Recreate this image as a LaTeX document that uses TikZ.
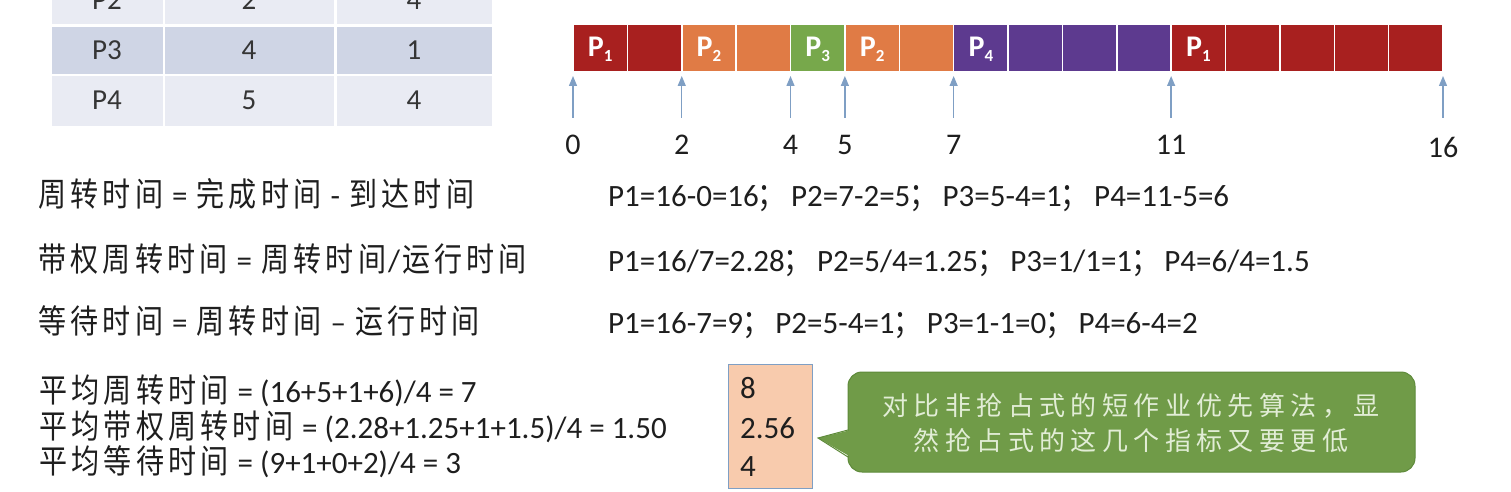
\documentclass[tikz,border=0pt]{standalone}
\usepackage{fontspec}
\usetikzlibrary{arrows.meta,calc}
\setmainfont{Carlito}
\newfontfamily\cjkfont[FakeStretch=0.85]{Noto Sans CJK SC}
\newfontfamily\cjkfontb{Noto Sans CJK SC}
% CJK characters with a fixed advance (kern on both sides of each glyph)
\def\zhloop#1{\ifx#1\relax\else\kern2.1pt#1\kern2.1pt\expandafter\zhloop\fi}
\newcommand\zh[1]{{\cjkfont\fontsize{33}{36}\selectfont\zhloop#1\relax}}
\newcommand\semi{{\cjkfont\fontsize{33}{36}\selectfont\kern-1pt；\kern5.25pt}}
\def\zhbloop#1{\ifx#1\relax\else\kern2.7pt#1\kern2.7pt\expandafter\zhbloop\fi}
\newcommand\zhb[1]{{\cjkfontb\fontsize{26}{30}\selectfont\zhbloop#1\relax}}
\definecolor{cPa}{HTML}{A8201F}
\definecolor{cPb}{HTML}{E07B45}
\definecolor{cPc}{HTML}{77A84B}
\definecolor{cPd}{HTML}{5D3A8F}
\definecolor{rowlight}{HTML}{E9EBF3}
\definecolor{rowdark}{HTML}{CFD5E5}
\definecolor{arrowblue}{HTML}{7F9FC4}
\definecolor{peach}{HTML}{F8CBAD}
\definecolor{greenfill}{HTML}{709B48}
\definecolor{greenline}{HTML}{5E8A3A}
\definecolor{calltxt}{HTML}{E2EDD6}
\definecolor{ink}{HTML}{1E1E1E}
\tikzset{
  ttext/.style={font=\fontsize{29}{34}\selectfont, text=ink!90, anchor=base, inner sep=0pt},
  gcell/.style={draw=white, line width=1.5pt, inner sep=0pt, minimum width=54.375pt, minimum height=48pt},
  glabel/.style={font=\bfseries\fontsize{30}{34}\selectfont, text=white, anchor=base, inner sep=0pt},
  tick/.style={font=\fontsize{30}{34}\selectfont, text=ink, anchor=base, inner sep=0pt},
  marker/.style={draw=arrowblue, line width=1.3pt, -{Triangle[length=10pt,width=8pt]}},
  ftext/.style={font=\fontsize{31}{36}\selectfont, text=ink, anchor=base west, inner sep=0pt},
  peachbox/.style={fill=peach, draw=arrowblue, line width=1pt, inner sep=0pt},
}
\begin{document}
\begin{tikzpicture}[x=1pt,y=-1pt]
\useasboundingbox (0,0) rectangle (1511,492);
\fill[white] (0,0) rectangle (1511,492);
\clip (0,0) rectangle (1511,492);
% table
\fill[rowlight] (52,-30) rectangle (163,24);
\fill[rowlight] (165,-30) rectangle (334,24);
\fill[rowlight] (337,-30) rectangle (492,24);
\fill[rowdark] (52,27) rectangle (163,74);
\fill[rowdark] (165,27) rectangle (334,74);
\fill[rowdark] (337,27) rectangle (492,74);
\fill[rowlight] (52,76) rectangle (163,126);
\fill[rowlight] (165,76) rectangle (334,126);
\fill[rowlight] (337,76) rectangle (492,126);
\node[ttext] (t21) at (107,10) {P2};
\node[ttext] (t22) at (249,10) {2};
\node[ttext] (t23) at (414,10) {4};
\node[ttext] (t31) at (107,60) {P3};
\node[ttext] (t32) at (249,60) {4};
\node[ttext] (t33) at (414,60) {1};
\node[ttext] (t41) at (107,110) {P4};
\node[ttext] (t42) at (249,110) {5};
\node[ttext] (t43) at (414,110) {4};
% gantt
\foreach \t/\c in {0/cPa,1/cPa,2/cPb,3/cPb,4/cPc,5/cPb,6/cPb,7/cPd,8/cPd,9/cPd,10/cPd,11/cPa,12/cPa,13/cPa,14/cPa,15/cPa}{
  \node[gcell, fill=\c] (g\t) at ({573+54.375*(\t+0.5)},48) {};
}
\foreach \t/\s in {0/1,2/2,4/3,5/2,7/4,11/1}{
  \node[glabel] (gl\t) at ({573+54.375*(\t+0.5)},57) {P\raisebox{-5pt}{\fontsize{17}{17}\selectfont \s}};
}
\foreach \t in {0,2,4,5,7,11,16}{
  \coordinate (ab\t) at ({573+54.375*\t},118);
  \coordinate (at\t) at ({573+54.375*\t},76);
  \draw[marker] (ab\t) -- (at\t);
}
\foreach \t in {0,2,4,5,7,11}{
  \node[tick] (tk\t) at ({573+54.375*\t},154) {\t};
}
\node[tick] (tk16) at (1443,157) {16};
% formulas
\node[ftext] (f1) at (36,206) {\zh{周转时间} = \zh{完成时间} - \zh{到达时间}};
\node[ftext] (f2) at (36,271) {\zh{带权周转时间} = \zh{周转时间}/\zh{运行时间}};
\node[ftext] (f3) at (36,333) {\zh{等待时间} = \zh{周转时间} -- \zh{运行时间}};
\node[ftext] (r1) at (608,206) {P1=16-0=16\semi P2=7-2=5\semi P3=5-4=1\semi P4=11-5=6};
\node[ftext] (r2) at (608,271) {P1=16/7=2.28\semi P2=5/4=1.25\semi P3=1/1=1\semi P4=6/4=1.5};
\node[ftext] (r3) at (608,333) {P1=16-7=9\semi P2=5-4=1\semi P3=1-1=0\semi P4=6-4=2};
\node[ftext] (m1) at (37,402) {\zh{平均周转时间} = (16+5+1+6)/4 = 7};
\node[ftext] (m2) at (37,438) {\zh{平均带权周转时间} = (2.28+1.25+1+1.5)/4 = 1.50};
\node[ftext] (m3) at (37,473) {\zh{平均等待时间} = (9+1+0+2)/4 = 3};
% peach box
\node[peachbox, minimum width=84pt, minimum height=124pt] (pb) at (770,426) {};
\node[ftext] (v1) at (740,398) {8};
\node[ftext] (v2) at (740,438) {2.56};
\node[ftext] (v3) at (740,476) {4};
% callout
\node[fill=greenfill, draw=greenline, line width=1pt, rounded corners=14pt, minimum width=567pt, minimum height=100pt, inner sep=0pt] (co) at (1131.5,422) {};
\coordinate (ptip) at (818,438);
\coordinate (ptop) at (848,430);
\coordinate (pbot) at (848,457);
\fill[greenfill] (ptip) -- ($(ptop)+(3,0)$) -- ($(pbot)+(3,0)$) -- cycle;
\draw[greenline, line width=1pt] (ptop) -- (ptip) -- (pbot);
\node[text=calltxt, anchor=base, inner sep=0pt] (ct1) at (1131,415) {\zhb{对比非抢占式的短作业优先算法，显}};
\node[text=calltxt, anchor=base, inner sep=0pt] (ct2) at (1131,450) {\zhb{然抢占式的这几个指标又要更低}};
\end{tikzpicture}
\end{document}
